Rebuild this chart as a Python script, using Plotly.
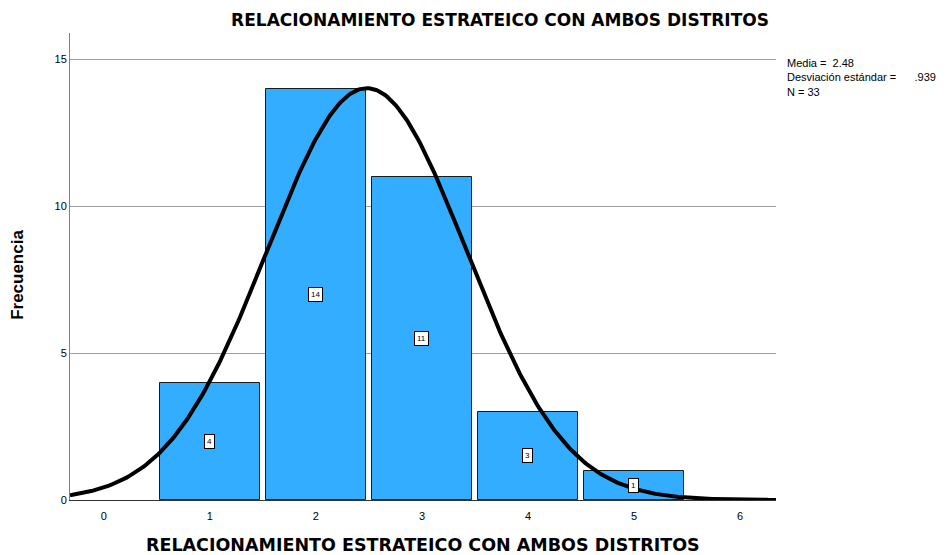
import numpy as np
import plotly.graph_objects as go

# Histogram data
categories = [1, 2, 3, 4, 5]
frequencies = [4, 14, 11, 3, 1]
x_ticks = [0, 1, 2, 3, 4, 5, 6]

# Summary statistics (as shown in the chart)
media = 2.48
desviacion = 0.939
n_total = 33

titulo = "RELACIONAMIENTO ESTRATEICO CON AMBOS DISTRITOS"
FONT = "Arial, Liberation Sans"
WIDE = "DejaVu Sans"

# Normal curve scaled to the histogram (bin width = 1)
xs = np.linspace(-0.32, 6.34, 400)
ys = n_total / (desviacion * np.sqrt(2 * np.pi)) * np.exp(-0.5 * ((xs - media) / desviacion) ** 2)

fig = go.Figure()

fig.add_trace(go.Bar(
    x=categories,
    y=frequencies,
    width=0.95,
    marker=dict(color="#33adff", line=dict(color="#1a1a1a", width=1)),
    hoverinfo="x+y",
))

fig.add_trace(go.Scatter(
    x=xs, y=ys, mode="lines",
    line=dict(color="black", width=4),
    hoverinfo="skip",
))

# Frequency labels inside bars
for c, f in zip(categories, frequencies):
    fig.add_annotation(
        x=c, y=f / 2, text=str(f), showarrow=False,
        font=dict(family=FONT, size=8, color="black"),
        bgcolor="white", bordercolor="black", borderwidth=1, borderpad=2,
    )

# Statistics box on the right
sp = "&nbsp;" * 6
fig.add_annotation(
    xref="paper", yref="paper", x=1.0127, y=0.953,
    xanchor="left", yanchor="top", align="left", showarrow=False,
    text=f"Media =&nbsp; {media}<br>Desviación estándar ={sp}.939<br>N = {n_total}",
    font=dict(family=FONT, size=11, color="black"),
)

# Axis titles
fig.add_annotation(
    xref="paper", yref="paper", x=0.5, y=-0.097, yanchor="middle",
    text=f"<b>{titulo}</b>", showarrow=False,
    font=dict(family=WIDE, size=17.5, color="black"),
)
fig.add_annotation(
    xref="paper", yref="paper", x=-0.0737, y=0.482, xanchor="center", yanchor="middle",
    text="<b>Frecuencia</b>", textangle=-90, showarrow=False,
    font=dict(family=FONT, size=17, color="black"),
)

fig.update_layout(
    width=939, height=547,
    paper_bgcolor="white", plot_bgcolor="white",
    showlegend=False,
    bargap=0,
    margin=dict(l=62, r=171, t=25, b=55, autoexpand=False),
    title=dict(
        text=f"<b>{titulo}</b>", x=0.524, xanchor="center", y=0.978, yanchor="middle",
        font=dict(family=WIDE, size=17, color="black"),
    ),
    font=dict(family=FONT, color="black"),
)

fig.update_xaxes(
    range=[-0.32, 6.34], tickvals=x_ticks, ticktext=[str(t) for t in x_ticks],
    showgrid=False, zeroline=False, showline=True, linecolor="#333333", linewidth=1,
    ticks="", tickfont=dict(size=11), ticklabelstandoff=6, automargin=False,
)

fig.update_yaxes(
    range=[0, 15.9], tickvals=[0, 5, 10, 15],
    showgrid=True, gridcolor="#a0a0a0", gridwidth=1, zeroline=False,
    showline=True, linecolor="#808080", linewidth=1,
    ticks="", tickfont=dict(size=11), automargin=False,
)

fig.write_html("out.html")
